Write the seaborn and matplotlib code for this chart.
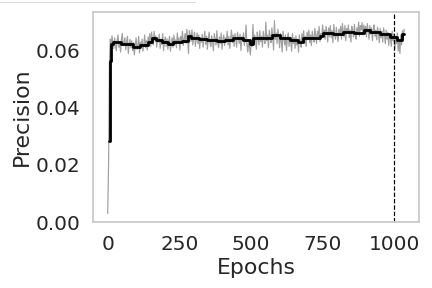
import pandas as pd
import matplotlib.pyplot as plt
from matplotlib.lines import Line2D
import seaborn as sns

# raw precision, sampled every 3 epochs (0..1035)
epochs_raw = list(range(0, 1036, 3))
precision_raw = [
    0.0030, 0.0200, 0.0560, 0.0640, 0.0615, 0.0652, 0.0628, 0.0608, 0.0645, 0.0620,
    0.0600, 0.0638, 0.0655, 0.0612, 0.0630, 0.0595, 0.0642, 0.0660, 0.0618, 0.0625,
    0.0645, 0.0603, 0.0632, 0.0650, 0.0590, 0.0622, 0.0640, 0.0610, 0.0635, 0.0600,
    0.0628, 0.0585, 0.0620, 0.0645, 0.0605, 0.0615, 0.0650, 0.0592, 0.0630, 0.0612,
    0.0640, 0.0598, 0.0622, 0.0655, 0.0610, 0.0635, 0.0602, 0.0648, 0.0625, 0.0660,
    0.0615, 0.0665, 0.0640, 0.0620, 0.0668, 0.0635, 0.0652, 0.0612, 0.0645, 0.0630,
    0.0658, 0.0608, 0.0640, 0.0622, 0.0660, 0.0600, 0.0635, 0.0648, 0.0615, 0.0642,
    0.0605, 0.0632, 0.0650, 0.0598, 0.0625, 0.0645, 0.0612, 0.0655, 0.0620, 0.0638,
    0.0610, 0.0662, 0.0628, 0.0645, 0.0602, 0.0650, 0.0635, 0.0668, 0.0618, 0.0640,
    0.0660, 0.0625, 0.0675, 0.0645, 0.0590, 0.0670, 0.0655, 0.0632, 0.0672, 0.0620,
    0.0648, 0.0665, 0.0615, 0.0640, 0.0662, 0.0625, 0.0655, 0.0608, 0.0645, 0.0630,
    0.0658, 0.0612, 0.0640, 0.0668, 0.0622, 0.0650, 0.0605, 0.0642, 0.0665, 0.0628,
    0.0615, 0.0652, 0.0635, 0.0600, 0.0660, 0.0640, 0.0620, 0.0670, 0.0630, 0.0610,
    0.0648, 0.0625, 0.0662, 0.0605, 0.0640, 0.0655, 0.0618, 0.0645, 0.0632, 0.0668,
    0.0620, 0.0650, 0.0608, 0.0642, 0.0672, 0.0628, 0.0655, 0.0615, 0.0660, 0.0638,
    0.0612, 0.0665, 0.0645, 0.0625, 0.0658, 0.0600, 0.0648, 0.0635, 0.0662, 0.0618,
    0.0640, 0.0690, 0.0620, 0.0595, 0.0638, 0.0610, 0.0585, 0.0632, 0.0615, 0.0692,
    0.0625, 0.0655, 0.0638, 0.0605, 0.0665, 0.0645, 0.0620, 0.0670, 0.0632, 0.0650,
    0.0612, 0.0668, 0.0640, 0.0625, 0.0700, 0.0635, 0.0655, 0.0610, 0.0672, 0.0645,
    0.0628, 0.0680, 0.0650, 0.0602, 0.0705, 0.0640, 0.0662, 0.0625, 0.0675, 0.0648,
    0.0610, 0.0660, 0.0635, 0.0595, 0.0668, 0.0645, 0.0620, 0.0655, 0.0600, 0.0640,
    0.0662, 0.0615, 0.0648, 0.0632, 0.0598, 0.0660, 0.0625, 0.0645, 0.0608, 0.0652,
    0.0620, 0.0640, 0.0595, 0.0655, 0.0630, 0.0612, 0.0660, 0.0638, 0.0670, 0.0625,
    0.0650, 0.0615, 0.0665, 0.0640, 0.0672, 0.0628, 0.0655, 0.0618, 0.0668, 0.0645,
    0.0630, 0.0678, 0.0650, 0.0625, 0.0668, 0.0640, 0.0685, 0.0632, 0.0660, 0.0645,
    0.0690, 0.0655, 0.0672, 0.0640, 0.0685, 0.0662, 0.0630, 0.0680, 0.0650, 0.0688,
    0.0645, 0.0670, 0.0628, 0.0692, 0.0660, 0.0640, 0.0682, 0.0652, 0.0632, 0.0675,
    0.0655, 0.0685, 0.0640, 0.0695, 0.0668, 0.0648, 0.0688, 0.0635, 0.0678, 0.0660,
    0.0690, 0.0645, 0.0672, 0.0630, 0.0685, 0.0665, 0.0648, 0.0692, 0.0655, 0.0640,
    0.0680, 0.0660, 0.0700, 0.0650, 0.0688, 0.0672, 0.0698, 0.0655, 0.0690, 0.0665,
    0.0685, 0.0648, 0.0695, 0.0670, 0.0640, 0.0688, 0.0658, 0.0680, 0.0635, 0.0675,
    0.0690, 0.0650, 0.0672, 0.0638, 0.0682, 0.0660, 0.0628, 0.0678, 0.0645, 0.0668,
    0.0630, 0.0680, 0.0655, 0.0625, 0.0672, 0.0640, 0.0665, 0.0618, 0.0660, 0.0645,
    0.0615, 0.0668, 0.0635, 0.0658, 0.0605, 0.0650, 0.0625, 0.0662, 0.0598, 0.0640,
    0.0590, 0.0655, 0.0620, 0.0670, 0.0645, 0.0675,
]

# smoothed precision (step values)
epochs_smooth = [5, 9, 13, 20, 48, 88, 112, 141, 153, 170, 188, 211, 228, 258, 281,
                 292, 320, 345, 380, 410, 438, 473, 496, 508, 537, 572, 601, 636,
                 665, 683, 706, 741, 753, 788, 823, 858, 893, 916, 951, 986, 1009,
                 1027, 1035]
precision_smooth = [0.0285, 0.0565, 0.0625, 0.0631, 0.0624, 0.0613, 0.0619, 0.0631,
                    0.0646, 0.0639, 0.0631, 0.0625, 0.0631, 0.0634, 0.0651, 0.0643,
                    0.0640, 0.0637, 0.0635, 0.0636, 0.0643, 0.0639, 0.0625, 0.0643,
                    0.0646, 0.0654, 0.0643, 0.0639, 0.0631, 0.0643, 0.0646, 0.0651,
                    0.0663, 0.0658, 0.0666, 0.0663, 0.0674, 0.0666, 0.0660, 0.0648,
                    0.0637, 0.0657, 0.0657]

best_epoch = 1000

raw = pd.DataFrame({'Epochs': epochs_raw, 'Precision': precision_raw})
smooth = pd.DataFrame({'Epochs': epochs_smooth, 'Precision': precision_smooth})

sns.set_theme(style='whitegrid', context='talk')
plt.rcParams['xtick.labelsize'] = 20
plt.rcParams['ytick.labelsize'] = 20
plt.rcParams['axes.labelsize'] = 22

fig, ax = plt.subplots(figsize=(6, 4), dpi=72)
fig.subplots_adjust(left=0.215, right=0.970, bottom=0.229, top=0.958)

sns.lineplot(data=raw, x='Epochs', y='Precision', color='#a0a0a0', linewidth=1.2, ax=ax)
sns.lineplot(data=smooth, x='Epochs', y='Precision', color='black', linewidth=2.8,
             drawstyle='steps-post', ax=ax)
ax.axvline(best_epoch, color='black', linestyle='--', linewidth=1.2)

ax.grid(False)
ax.set_ylim(0, 0.0735)
ax.set_yticks([0.00, 0.02, 0.04, 0.06])
ax.set_xticks([0, 250, 500, 750, 1000])

# faint leftover line at the top-left corner
fig.add_artist(Line2D([0, 195 / 432], [1 - 1.5 / 288] * 2, color='0.85', linewidth=1))

fig.savefig('out.png', dpi=72)
